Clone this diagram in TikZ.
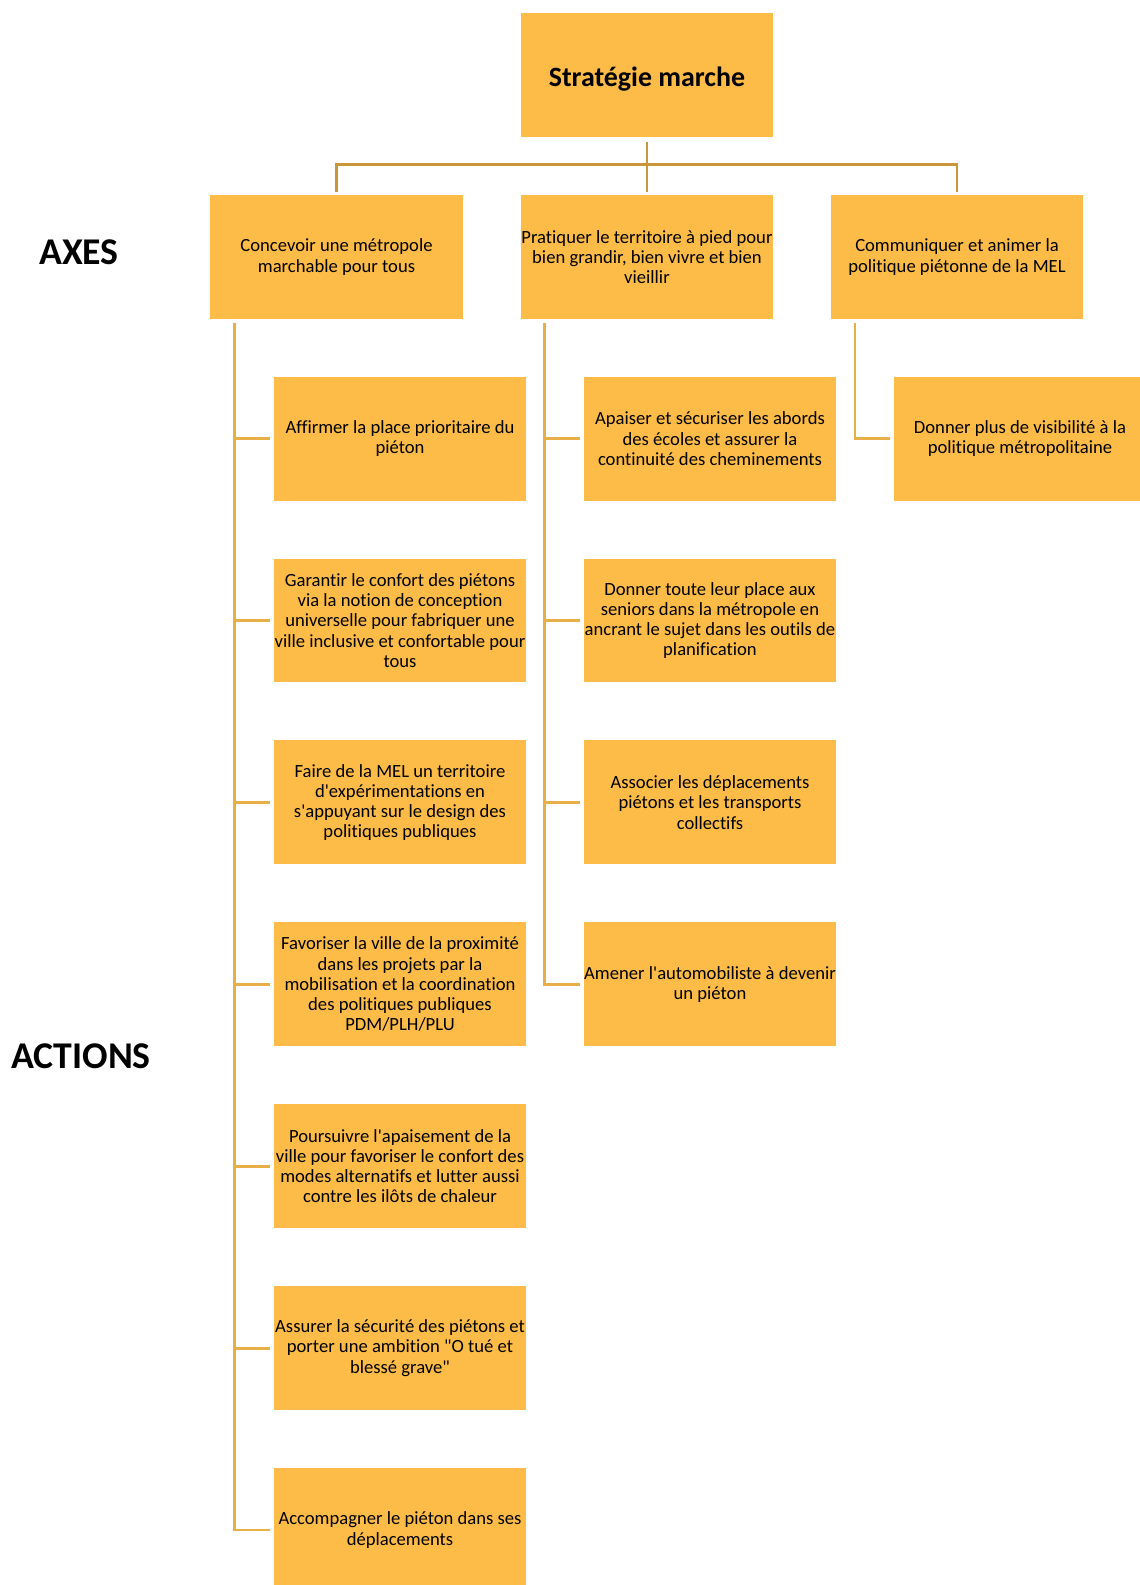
\documentclass[tikz,border=0pt]{standalone}
\usepackage{fontspec}
\defaultfontfeatures[\rmfamily]{}
\setmainfont{Carlito}[Ligatures=NoCommon]
\usepackage{tikz}
\definecolor{boxfill}{HTML}{FDBB47}
\definecolor{toplink}{HTML}{C9963A}
\definecolor{sublink}{HTML}{E8AF48}

\begin{document}
\begin{tikzpicture}[
  x=0.02cm, y=-0.02cm,
  box/.style={fill=boxfill, draw=none, minimum width=5.06cm, minimum height=2.48cm,
              align=center, inner sep=0pt,
              font=\fontsize{10.6}{11.5}\selectfont},
  rootbox/.style={box, text height=0.56cm, font=\fontsize{15.9}{18}\selectfont\bfseries},
  sidelabel/.style={font=\fontsize{21.5}{25}\selectfont\bfseries},
  topline/.style={line width=1.6pt, toplink},
  link/.style={line width=1.6pt, sublink, shorten >=0.06cm},
]
\useasboundingbox (0,0) rectangle (1139,1585);

\node[sidelabel] (axes) at (79, 252) {AXES};
\node[sidelabel] (actions) at (81, 1056) {ACTIONS};

\node[rootbox] (root) at (647, 75) {Stratégie marche};

\node[box] (ax1) at (336.5, 257) {Concevoir une métropole\\marchable pour tous};
\node[box] (ax2) at (647, 257) {Pratiquer le territoire à pied pour\\bien grandir, bien vivre et bien\\vieillir};
\node[box] (ax3) at (957, 257) {Communiquer et animer la\\politique piétonne de la MEL};

% actions, axe 1
\node[box] (a11) at (400, 438.6) {Affirmer la place prioritaire du\\piéton};
\node[box] (a12) at (400, 620.5) {Garantir le confort des piétons\\via la notion de conception\\universelle pour fabriquer une\\ville inclusive et confortable pour\\tous};
\node[box] (a13) at (400, 802.4) {Faire de la MEL un territoire\\d'expérimentations en\\s'appuyant sur le design des\\politiques publiques};
\node[box] (a14) at (400, 984.3) {Favoriser la ville de la proximité\\dans les projets par la\\mobilisation et la coordination\\des politiques publiques\\PDM/PLH/PLU};
\node[box] (a15) at (400, 1166.2) {Poursuivre l'apaisement de la\\ville pour favoriser le confort des\\modes alternatifs et lutter aussi\\contre les ilôts de chaleur};
\node[box] (a16) at (400, 1348.1) {Assurer la sécurité des piétons et\\porter une ambition "O tué et\\blessé grave"};
\node[box] (a17) at (400, 1530) {Accompagner le piéton dans ses\\déplacements};

% actions, axe 2
\node[box] (a21) at (710, 438.6) {Apaiser et sécuriser les abords\\des écoles et assurer la\\continuité des cheminements};
\node[box] (a22) at (710, 620.5) {Donner toute leur place aux\\seniors dans la métropole en\\ancrant le sujet dans les outils de\\planification};
\node[box] (a23) at (710, 802.4) {Associer les déplacements\\piétons et les transports\\collectifs};
\node[box] (a24) at (710, 984.3) {Amener l'automobiliste à devenir\\un piéton};

% actions, axe 3
\node[box] (a31) at (1020, 438.6) {Donner plus de visibilité à la\\politique métropolitaine};

\coordinate (bus) at (647, 164.7);
\coordinate (sp1) at (234.5, 323);
\coordinate (sp2) at (544.7, 323);
\coordinate (sp3) at (855, 323);

\draw[topline, shorten <=0.09cm] (root.south) -- (bus);
\draw[topline, shorten >=0.06cm] (bus) -| (ax1.north);
\draw[topline, shorten >=0.06cm] (bus) -- (ax2.north);
\draw[topline, shorten >=0.06cm] (bus) -| (ax3.north);

\draw[link] (sp1) |- (a17.west);
\draw[link] (a11.west -| sp1) -- (a11.west);
\draw[link] (a12.west -| sp1) -- (a12.west);
\draw[link] (a13.west -| sp1) -- (a13.west);
\draw[link] (a14.west -| sp1) -- (a14.west);
\draw[link] (a15.west -| sp1) -- (a15.west);
\draw[link] (a16.west -| sp1) -- (a16.west);

\draw[link] (sp2) |- (a24.west);
\draw[link] (a21.west -| sp2) -- (a21.west);
\draw[link] (a22.west -| sp2) -- (a22.west);
\draw[link] (a23.west -| sp2) -- (a23.west);

\draw[link] (sp3) |- (a31.west);

\end{tikzpicture}
\end{document}
